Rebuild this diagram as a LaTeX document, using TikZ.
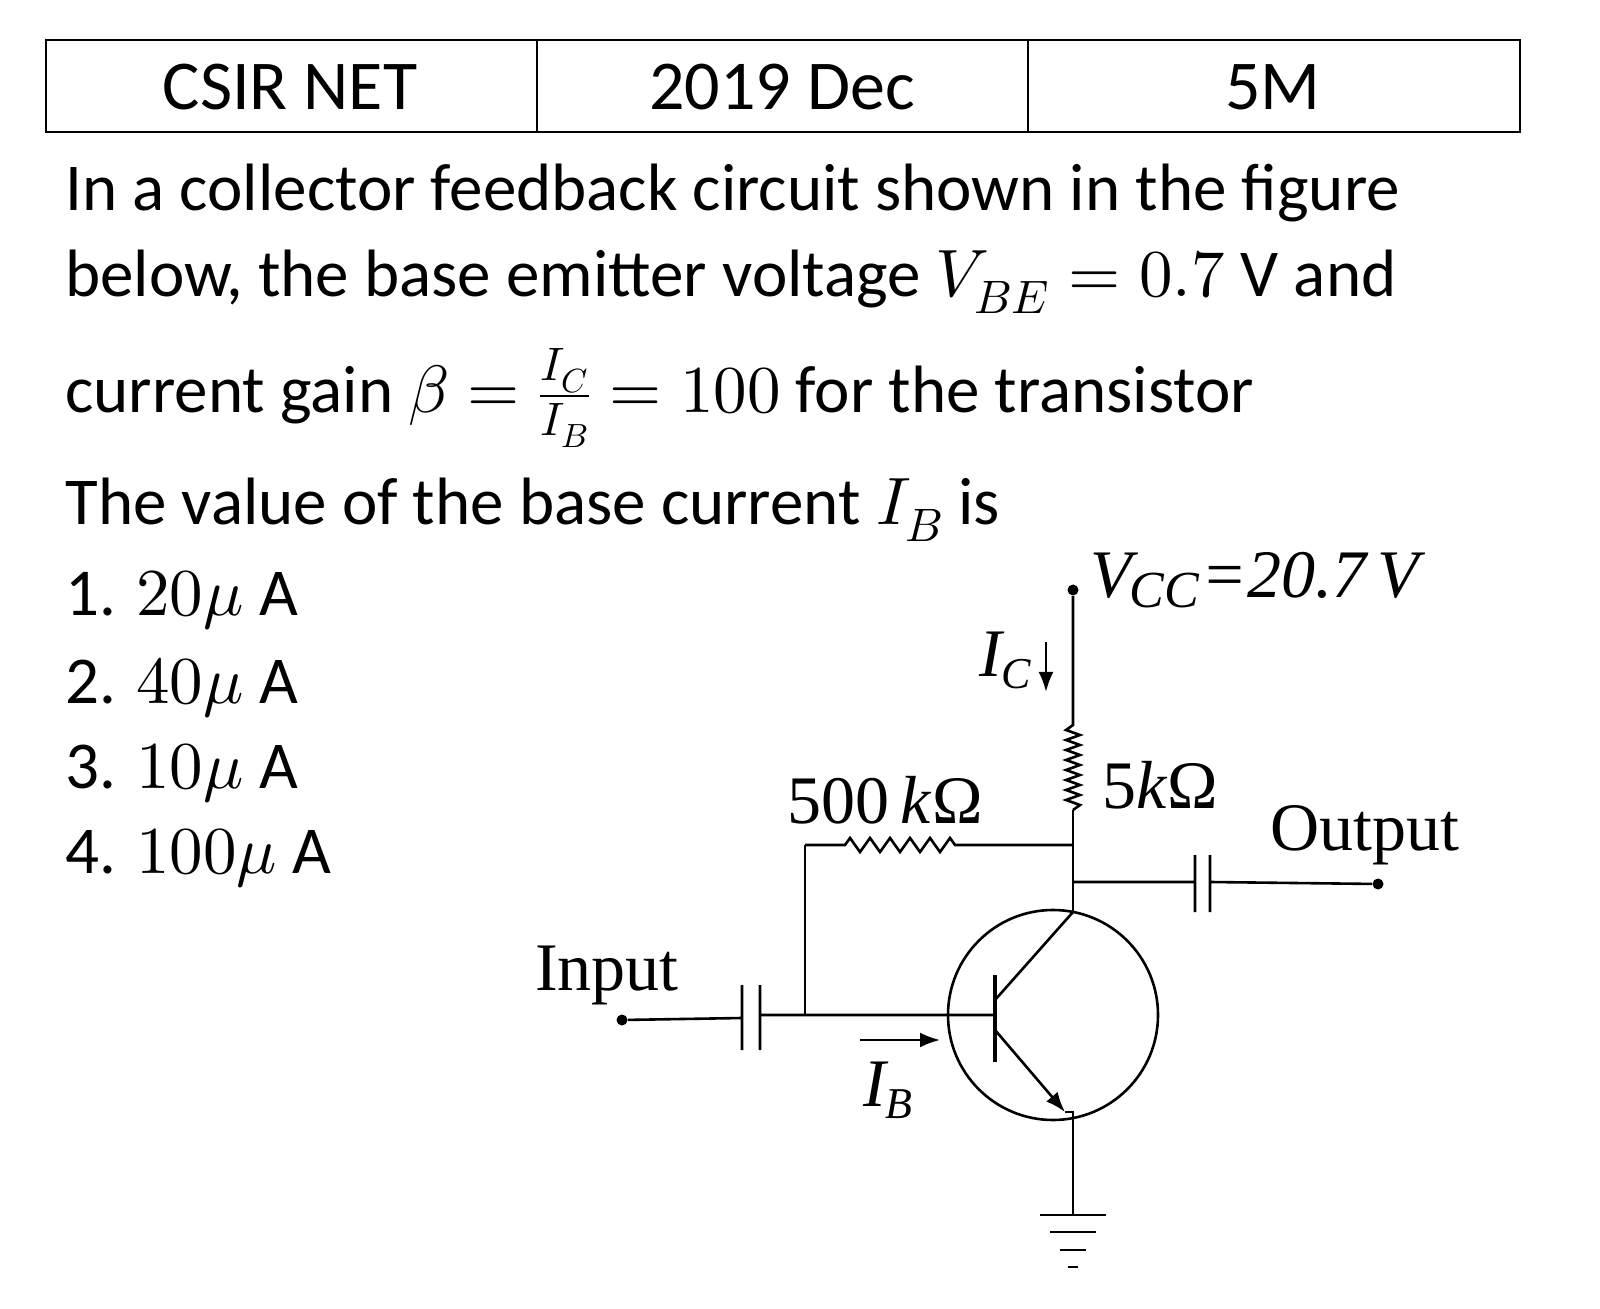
\documentclass[tikz,border=0pt]{standalone}
\usepackage{fontspec}
\setmainfont{Carlito}
\usepackage{unicode-math}
\setmathfont{Latin Modern Math}
\newfontfamily\circfont{Liberation Serif}
\usetikzlibrary{arrows.meta}
\begin{document}
\begin{tikzpicture}[x=0.5pt,y=-0.5pt,
  txt/.style={anchor=west,inner sep=0,font=\fontsize{33.5}{36}\selectfont},
  hd/.style={inner sep=0,font=\fontsize{35}{38}\selectfont},
  lab/.style={inner sep=0,font=\circfont\fontsize{34}{36}\selectfont},
  w/.style={line width=1.3pt},
  dot/.style={circle,fill,inner sep=0,minimum size=5.5pt}]
\draw[line width=1.1pt] (46,40) rectangle (1520,132) (537,40)--(537,132) (1028,40)--(1028,132);
\node[hd] (h1) at (290,87) {CSIR NET};
\node[hd] (h2) at (782,87) {2019 Dec};
\node[hd] (h3) at (1273,87) {5M};
\node[txt] (l1) at (65,193) {In a collector feedback circuit shown in the figure};
\node[txt] (l2) at (65,282) {below, the base emitter voltage $V_{BE}=0.7\text{ V}$ and};
\node[txt] (l3) at (65,398) {current gain $\beta=\frac{I_C}{I_B}=100$ for the transistor};
\node[txt] (l4) at (65,510) {The value of the base current $I_B$ is};
\node[txt] (o1) at (65,600) {1. $20\mu\text{ A}$};
\node[txt] (o2) at (65,688) {2. $40\mu\text{ A}$};
\node[txt] (o3) at (65,773) {3. $10\mu\text{ A}$};
\node[txt] (o4) at (65,858) {4. $100\mu\text{ A}$};
% circuit
\node[dot] (vcc) at (1073,590) {};
\node[lab,anchor=west] (vl) at (1090,580) {\itshape V\kern-1pt\raisebox{-5pt}{\fontsize{26}{26}\selectfont CC}\kern1pt=20.7\,V};
\coordinate (rt) at (1073,725);
\coordinate (rb) at (1073,810);
\draw[w] (vcc)--(rt) -- ++(-7,5)--++(14,5)--++(-14,5)--++(14,5)--++(-14,5)--++(14,5)--++(-14,5)--++(14,5)--++(-14,5)--++(14,5)--++(-14,5)--++(14,5)--++(-14,5)--++(14,5)--++(-14,5)--++(14,5)--(rb);
\coordinate (j1) at (1073,845);
\coordinate (j2) at (1073,882);
\coordinate (cc) at (1073,912);
\draw[w] (rb)--(j1)--(j2)--(cc);
\coordinate (bl) at (805,845);
\draw[w] (j1)--(955,845) -- ++(-5,-7)--++(-10,14)--++(-10,-14)--++(-10,14)--++(-10,-14)--++(-10,14)--++(-10,-14)--++(-10,14)--++(-10,-14)--++(-10,14)--++(-10,-14)--++(-5,7)--(bl);
\coordinate (bj) at (805,1015);
\draw[w] (bl)--(bj);
\node[lab] (r1) at (885,800) {500\,\textit{k}Ω};
\node[lab] (r2) at (1160,785) {5\textit{k}Ω};
% output
\node[dot] (out) at (1378,884) {};
\draw[w] (j2)--(1195,882) (1195,855)--(1195,912) (1210,855)--(1210,912) (1210,882)--(out);
\node[lab] (ol) at (1365,835) {Output};
% transistor
\draw[w] (1053,1015) circle (105);
\draw[line width=2pt] (995,975)--(995,1062);
\draw[w] (995,1000)--(cc);
\draw[w,-{Latex[length=10pt]}] (995,1030)--(1065,1112);
\coordinate (em) at (1073,1112);
\coordinate (gnd) at (1073,1215);
\draw[w] (1065,1112)--(em)--(gnd);
\draw[w] (1040,1215)--(1106,1215) (1050,1232)--(1096,1232) (1060,1250)--(1086,1250) (1068,1267)--(1078,1267);
% input
\node[dot] (in) at (622,1020) {};
\draw[w] (in)--(742,1018) (742,985)--(742,1050) (760,985)--(760,1050) (760,1015)--(bj)--(995,1015);
\node[lab] (il) at (607,975) {Input};
\draw[w,-{Latex[length=10pt]}] (860,1040)--(940,1040);
\node[lab] (ib) at (888,1090) {\itshape I\raisebox{-6pt}{\fontsize{22}{22}\selectfont B}};
\draw[w,-{Latex[length=10pt]}] (1046,642)--(1046,692);
\node[lab] (ic) at (1005,660) {\itshape I\raisebox{-6pt}{\fontsize{22}{22}\selectfont C}};
\pgfresetboundingbox
\path[use as bounding box] (0,0) rectangle (1600,1309);
\end{tikzpicture}
\end{document}
